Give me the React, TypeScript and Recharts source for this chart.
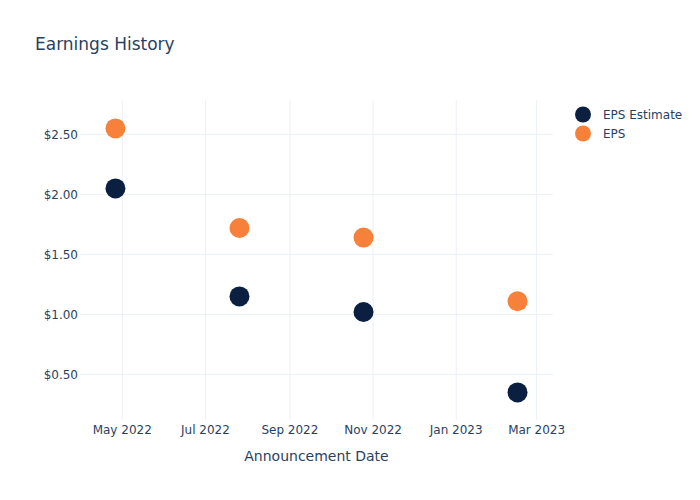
import React from 'react';
import { ScatterChart, Scatter, XAxis, YAxis, CartesianGrid } from 'recharts';

const announcementDates = ['2022-04-26', '2022-07-26', '2022-10-25', '2023-02-15'];
const epsEstimate = [2.05, 1.15, 1.02, 0.35];
const epsActual = [2.55, 1.72, 1.64, 1.11];
const xTickDates = ['2022-05-01', '2022-07-01', '2022-09-01', '2022-11-01', '2023-01-01', '2023-03-01'];
const yTicks = [0.5, 1.0, 1.5, 2.0, 2.5];
const xDomainDates = ['2022-03-31', '2023-03-13'];
const yDomain = [0.12, 2.787];
const monthNames = ['Jan', 'Feb', 'Mar', 'Apr', 'May', 'Jun', 'Jul', 'Aug', 'Sep', 'Oct', 'Nov', 'Dec'];

const seriesNames = ['EPS Estimate', 'EPS'];
const seriesColors = ['#0b1f41', '#f7813a'];

const toTs = (s: string) => {
  const [y, m, d] = s.split('-').map(Number);
  return Date.UTC(y, m - 1, d);
};

const estimateData = announcementDates.map((d, i) => ({ x: toTs(d), y: epsEstimate[i] }));
const epsData = announcementDates.map((d, i) => ({ x: toTs(d), y: epsActual[i] }));
const xTicks = xTickDates.map(toTs);
const xDomain = xDomainDates.map(toTs);

const FONT = '"DejaVu Sans", Verdana, sans-serif';
const TEXT = '#2a3f5f';

const fmtDate = (v: number) => {
  const d = new Date(v);
  return `${monthNames[d.getUTCMonth()]} ${d.getUTCFullYear()}`;
};

const makeDot = (color: string) => (props: any) => (
  <circle cx={props.cx} cy={props.cy} r={10} fill={color} />
);

const LegendBox = () => (
  <div style={{ position: 'absolute', left: 573, top: 105, fontFamily: FONT, fontSize: 12, color: TEXT }}>
    {seriesNames.map((n, i) => (
      <div key={n} style={{ display: 'flex', alignItems: 'center', height: 19 }}>
        <svg width={20} height={19} style={{ marginRight: 10 }}>
          <circle cx={10} cy={9.5} r={8} fill={seriesColors[i]} />
        </svg>
        <span>{n}</span>
      </div>
    ))}
  </div>
);

export default function App() {
  return (
    <div style={{ position: 'absolute', left: 0, top: 0, width: 700, height: 500, background: '#fff' }}>
      <svg width={700} height={60} style={{ position: 'absolute', left: 0, top: 0 }}>
        <text x={35} y={50} fontFamily={FONT} fontSize={17} fill={TEXT}>Earnings History</text>
      </svg>
      <ScatterChart width={700} height={500} margin={{ top: 100, right: 147, bottom: 50, left: 0 }}>
        <CartesianGrid stroke="#ebf0f8" strokeWidth={1} syncWithTicks />
        <XAxis
          type="number"
          dataKey="x"
          domain={xDomain}
          allowDataOverflow
          ticks={xTicks}
          tickFormatter={fmtDate}
          axisLine={false}
          tickLine={false}
          tickSize={0}
          tickMargin={5}
          height={30}
          tick={{ fontFamily: FONT, fontSize: 12, fill: TEXT }}
          label={{ value: 'Announcement Date', position: 'bottom', offset: 1, style: { fontFamily: FONT, fontSize: 14, fill: TEXT } }}
        />
        <YAxis
          type="number"
          dataKey="y"
          domain={yDomain}
          allowDataOverflow
          ticks={yTicks}
          tickFormatter={(v: number) => `$${v.toFixed(2)}`}
          axisLine={false}
          tickLine={false}
          tickSize={0}
          tickMargin={2}
          width={80}
          tick={{ fontFamily: FONT, fontSize: 12, fill: TEXT }}
        />
        <Scatter name={seriesNames[0]} data={estimateData} fill={seriesColors[0]} shape={makeDot(seriesColors[0])} isAnimationActive={false} />
        <Scatter name={seriesNames[1]} data={epsData} fill={seriesColors[1]} shape={makeDot(seriesColors[1])} isAnimationActive={false} />
      </ScatterChart>
      <LegendBox />
    </div>
  );
}
